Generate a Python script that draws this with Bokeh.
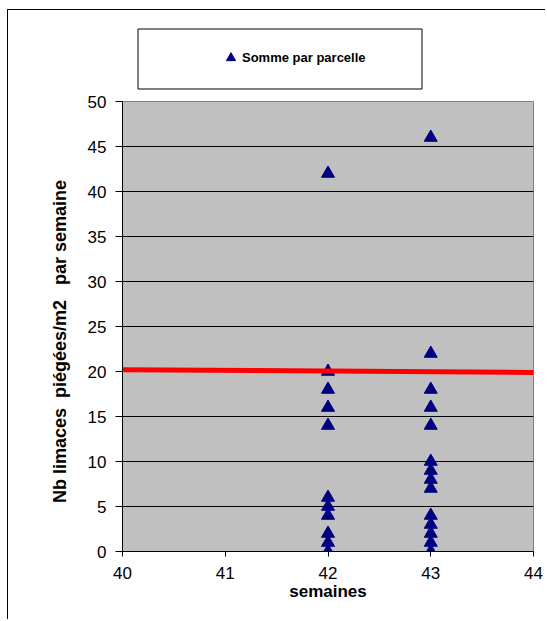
from bokeh.plotting import figure
from bokeh.layouts import column
from bokeh.models import Range1d, Legend, LegendItem, FixedTicker, BoxAnnotation
from bokeh.embed import file_html
from bokeh.resources import INLINE

# data
weeks_42 = [42] * 11
values_42 = [42, 20, 18, 16, 14, 6, 5, 4, 2, 1, 0]
weeks_43 = [43] * 14
values_43 = [46, 22, 18, 16, 14, 10, 9, 8, 7, 4, 3, 2, 1, 0]
threshold_x = [40, 44]
threshold_y = [20.2, 19.9]
x_ticks = [40, 41, 42, 43, 44]
y_ticks = [0, 5, 10, 15, 20, 25, 30, 35, 40, 45, 50]
series_name = "Somme par parcelle"
y_title = "Nb limaces\u00a0 piégées/m2\u00a0\u00a0 par semaine" + "\u00a0" * 6

FONT = "Liberation Sans"
NAVY = "#000080"

xs = weeks_42 + weeks_43
ys = values_42 + values_43

# ---- main chart ----
p = figure(width=537, height=526, output_backend="svg", toolbar_location=None,
           x_range=Range1d(40, 44), y_range=Range1d(0, 50),
           frame_width=411, frame_height=450,
           min_border_left=114, min_border_right=12, min_border_top=8, min_border_bottom=68)

p.background_fill_color = "#C0C0C0"
p.border_fill_color = "white"
p.outline_line_color = "#808080"
p.outline_line_width = 1

p.xgrid.visible = False
p.ygrid.ticker = FixedTicker(ticks=y_ticks)
p.ygrid.grid_line_color = "black"
p.ygrid.grid_line_width = 1

for ax in (p.xaxis[0], p.yaxis[0]):
    ax.axis_line_color = "black"
    ax.major_tick_line_color = "black"
    ax.major_tick_in = 0
    ax.minor_tick_line_color = None
    ax.major_label_text_font = FONT
    ax.major_label_text_font_size = "17px"
    ax.major_label_text_color = "black"
    ax.axis_label_text_font = FONT
    ax.axis_label_text_font_size = "17px"
    ax.axis_label_text_font_style = "bold"
    ax.axis_label_text_color = "black"

p.yaxis.axis_label_text_font_size = "18px"
p.xaxis.ticker = FixedTicker(ticks=x_ticks)
p.yaxis.ticker = FixedTicker(ticks=y_ticks)
p.xaxis.axis_label = "semaines"
p.yaxis.axis_label = y_title
p.xaxis.major_tick_out = 5
p.xaxis.major_label_standoff = 10
p.xaxis.axis_label_standoff = 0
p.yaxis.major_tick_out = 7
p.yaxis.major_label_standoff = 9
p.yaxis.axis_label_standoff = 15

p.scatter(xs, ys, marker="triangle", size=13, fill_color=NAVY, line_color=NAVY)
p.line(threshold_x, threshold_y, line_color="#FF0000", line_width=5)

# ---- legend strip above the chart (frame in pixel units) ----
lg = figure(width=537, height=83, output_backend="svg", toolbar_location=None,
            x_range=Range1d(0, 411), y_range=Range1d(0, 83),
            frame_width=411, frame_height=83,
            x_axis_location=None, y_axis_location=None,
            min_border_left=114, min_border_right=12, min_border_top=0, min_border_bottom=0)
lg.xgrid.visible = False
lg.ygrid.visible = False
lg.outline_line_color = None
lg.background_fill_color = "white"
lg.border_fill_color = "white"

series_r = lg.scatter(xs, ys, marker="triangle", fill_color=NAVY, line_color=NAVY, visible=False)

legend_box = BoxAnnotation(left=15.5, right=299.5, bottom=4.5, top=64.5,
                           fill_color="white", fill_alpha=1,
                           line_color="black", line_alpha=1, line_width=1)
lg.add_layout(legend_box)

legend = Legend(items=[LegendItem(label=series_name, renderers=[series_r])],
                location=(97, 24), padding=0, margin=0, spacing=0,
                glyph_width=23, glyph_height=23, label_height=20, label_standoff=0,
                label_text_font=FONT, label_text_font_size="13px", label_text_font_style="bold",
                label_text_color="black",
                border_line_alpha=0, background_fill_alpha=0,
                inactive_fill_alpha=0, click_policy="none")
lg.add_layout(legend)

layout = column(lg, p, spacing=0,
                styles={"margin-left": "7px", "margin-top": "9px",
                        "border-left": "1px solid black", "border-top": "1px solid black"})

open("out.html", "w").write(file_html(layout, INLINE))
